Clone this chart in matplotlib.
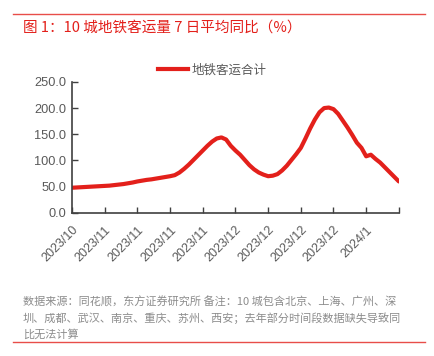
#!/usr/bin/env python3

import matplotlib
matplotlib.use('Agg')
import matplotlib.pyplot as plt
from matplotlib.lines import Line2D

plt.rcParams['font.family'] = ['Noto Sans CJK SC', 'DejaVu Sans']

title = '图 1：10 城地铁客运量 7 日平均同比（%）'
series_name = '地铁客运合计'
note_lines = [
    '数据来源：同花顺，东方证券研究所 备注：10 城包含北京、上海、广州、深',
    '圳、成都、武汉、南京、重庆、苏州、西安；去年部分时间段数据缺失导致同',
    '比无法计算',
]

# daily 7-day average yoy (%), 2023/10/31 .. 2024/1/9
values = [
    48, 48.5, 49, 49.5, 50, 50.5, 51, 51.5, 52, 53,
    54, 55, 56.5, 58, 60, 61.5, 63, 64, 65.5, 67,
    68.5, 70, 72, 77, 84, 92, 101, 110, 119, 128,
    136, 142, 144, 140, 128, 119, 111, 101, 91, 83,
    77, 73, 70, 71, 74, 81, 90, 101, 112, 124,
    142, 161, 178, 192, 200, 201, 198, 189, 176, 163,
    149, 134, 124, 108, 111, 103, 96, 87, 78, 69,
    60,
]
tick_labels = ['2023/10', '2023/11', '2023/11', '2023/11', '2023/11',
               '2023/12', '2023/12', '2023/12', '2023/12', '2024/1', '']
yticks = [0, 50, 100, 150, 200, 250]

RED = '#e3201b'
GREY = '#595959'


def main():
    fig = plt.figure(figsize=(4.34, 3.56), dpi=100)
    ax = fig.add_axes([0.166, 0.402, 0.753, 0.368])

    x = list(range(len(values)))
    ax.plot(x, values, color=RED, lw=3.0, solid_capstyle='round')

    ax.set_xlim(0, 70)
    ax.set_ylim(0, 250)
    ax.set_yticks(yticks)
    ax.set_yticklabels(['%.1f' % v for v in yticks], color=GREY, fontsize=9.2,
                       family=['Liberation Sans', 'DejaVu Sans'])
    ax.set_xticks(list(range(0, 71, 7)))
    ax.set_xticklabels(tick_labels, rotation=45, ha='right',
                       rotation_mode='anchor', color=GREY, fontsize=9,
                       family=['Liberation Sans', 'DejaVu Sans'])
    ax.tick_params(axis='both', direction='in', length=4, width=1,
                   color='#404040', pad=4)
    ax.tick_params(axis='x', pad=8)
    for s in ('top', 'right'):
        ax.spines[s].set_visible(False)
    for s in ('left', 'bottom'):
        ax.spines[s].set_color('#404040')
        ax.spines[s].set_linewidth(1.2)

    handle = Line2D([], [], color=RED, lw=3.0)
    fig.legend([handle], [series_name], loc='center',
               bbox_to_anchor=(0.49, 0.803), frameon=False, fontsize=9,
               labelcolor=GREY, handlelength=2.4, handletextpad=0.3)

    fig.add_artist(Line2D([0.03, 0.98], [0.961, 0.961], color=RED, lw=1.0,
                          alpha=0.8))
    fig.add_artist(Line2D([0.03, 0.98], [0.038, 0.038], color=RED, lw=1.0,
                          alpha=0.8))
    fig.text(0.053, 0.922, title, color=RED, fontsize=10.5, va='center')
    for i, line in enumerate(note_lines):
        fig.text(0.053, 0.152 - i * 0.045, line, color='#8c8c8c',
                 fontsize=8.0, va='center')

    fig.savefig('out.png', dpi=100)


if __name__ == '__main__':
    main()
